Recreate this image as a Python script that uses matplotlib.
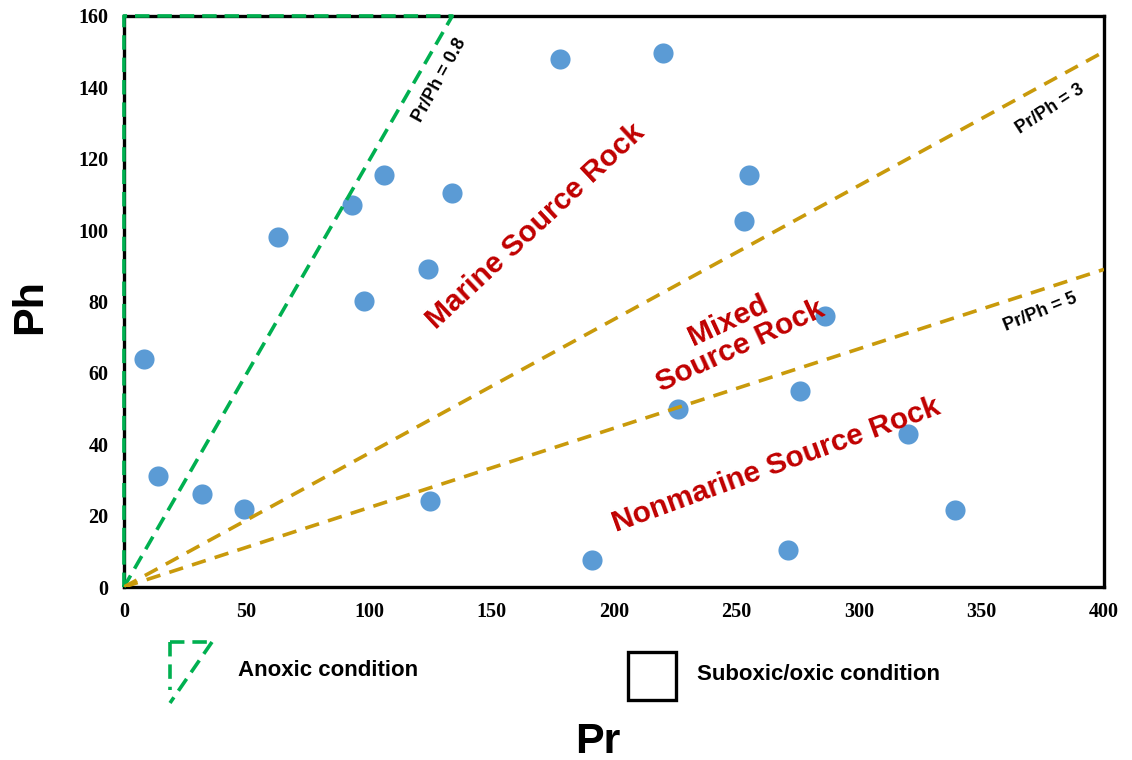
import matplotlib.pyplot as plt
from matplotlib.lines import Line2D
from matplotlib.patches import Rectangle

# sample values
pr = [8, 14, 32, 49, 63, 93, 98, 106, 124, 125, 134, 178, 220, 191, 226,
      253, 255, 271, 276, 286, 320, 339]
ph = [64, 31, 26, 22, 98, 107, 80, 115.5, 89, 24, 110.5, 148, 149.5, 7.5, 50,
      102.5, 115.5, 10.5, 55, 76, 43, 21.5]

# boundary lines (end points)
anoxic_x = [0, 0, 134, 0]
anoxic_y = [0, 160, 160, 0]
line3_x = [0, 400]
line3_y = [0, 150]
line5_x = [0, 400]
line5_y = [0, 89]

green = '#00B050'
gold = '#C99A0B'
red = '#C00000'
blue = '#5B9BD5'

fig = plt.figure(figsize=(11.32, 7.6), dpi=100)
ax = fig.add_axes([0.1095, 0.2276, 0.8658, 0.7514])

ax.scatter(pr, ph, s=210, color=blue, zorder=2, linewidths=0)

ax.plot(anoxic_x, anoxic_y, color=green, lw=2.6, ls=(0, (4, 2.2)), zorder=3, clip_on=False)
ax.plot(line3_x, line3_y, color=gold, lw=2.6, ls=(0, (4, 2.6)), zorder=3)
ax.plot(line5_x, line5_y, color=gold, lw=2.6, ls=(0, (4, 2.6)), zorder=3)

ax.set_xlim(0, 400)
ax.set_ylim(0, 160)
ax.set_xticks(range(0, 401, 50))
ax.set_yticks(range(0, 161, 20))
ax.tick_params(length=0, pad=11)
for lab in ax.get_xticklabels() + ax.get_yticklabels():
    lab.set_fontfamily('Liberation Serif')
    lab.set_fontweight('bold')
    lab.set_fontsize(14.5)
for sp in ax.spines.values():
    sp.set_linewidth(2.4)

lbl = dict(family='Liberation Sans', fontweight='bold', ha='center', va='center', zorder=4)
ax.text(129, 142, 'Pr/Ph = 0.8', fontsize=13, rotation=61, **lbl)
ax.text(378, 134, 'Pr/Ph = 3', fontsize=13, rotation=33, **lbl)
ax.text(374, 77, 'Pr/Ph = 5', fontsize=13, rotation=22, **lbl)

ax.text(168, 101, 'Marine Source Rock', fontsize=21.5, color=red, rotation=43, **lbl)
ax.text(249, 71, 'Mixed\nSource Rock', fontsize=21.5, color=red, rotation=25,
        linespacing=1.0, **lbl)
ax.text(266, 34, 'Nonmarine Source Rock', fontsize=21.5, color=red, rotation=20, **lbl)

fig.text(0.027, 0.596, 'Ph', fontsize=31, fontweight='bold', family='Liberation Sans',
         rotation=90, ha='center', va='center')
fig.text(0.528, 0.024, 'Pr', fontsize=31, fontweight='bold', family='Liberation Sans',
         ha='center', va='center')

# legend
W, H = 1132, 760
fig.add_artist(Line2D([170 / W, 212 / W], [1 - 642 / H, 1 - 642 / H], color=green, lw=2.6,
                      ls=(0, (4, 2.2))))
fig.add_artist(Line2D([170 / W, 170 / W], [1 - 642 / H, 1 - 690 / H], color=green, lw=2.6,
                      ls=(0, (4, 2.2))))
fig.add_artist(Line2D([212 / W, 170 / W], [1 - 642 / H, 1 - 703 / H], color=green, lw=2.6,
                      ls=(0, (4, 2.2))))
fig.text(238 / W, 1 - 671 / H, 'Anoxic condition', fontsize=16, fontweight='bold',
         family='Liberation Sans', va='center')
fig.add_artist(Rectangle((628 / W, 1 - 700 / H), 48 / W, 48 / H, fill=False, lw=2.4,
                         edgecolor='black', transform=fig.transFigure))
fig.text(697 / W, 1 - 675 / H, 'Suboxic/oxic condition', fontsize=16, fontweight='bold',
         family='Liberation Sans', va='center')

fig.savefig('out.png', dpi=100)
